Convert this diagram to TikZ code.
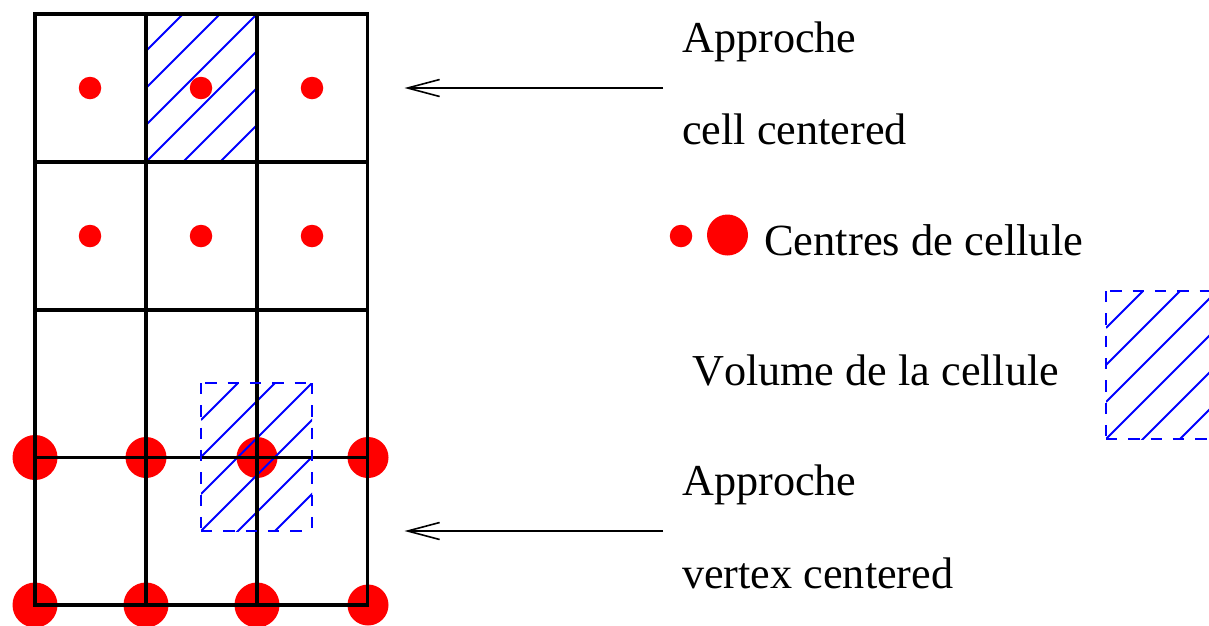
\documentclass[tikz,border=0pt]{standalone}
\usepackage{fontspec}
\setmainfont[Kerning=Off]{Liberation Serif}
\usetikzlibrary{arrows.meta}
\tikzset{
  gridline/.style={draw=black,line width=3.8pt,line cap=rect},
  hatchline/.style={draw=blue,line width=1.9pt},
  dashedge/.style={draw=blue,line width=2pt,dash pattern=on 11.3pt off 11pt},
  pointer/.style={draw=black,line width=1.6pt,-{Straight Barb[length=32pt,width=17pt,line width=1.6pt]}},
  small dot/.style={fill=red,draw=none,circle,inner sep=0pt,minimum size=22.5pt},
  label/.style={anchor=base west,inner sep=0pt,font=\fontsize{44.2}{48}\selectfont},
}
\newcommand{\hatchat}[2]{%
  \begin{scope}[shift={(#1,#2)}]
    \clip (0,0) rectangle (111,148);
    \foreach \k in {37,74,...,222}
      \draw[hatchline] (0,\k) -- (\k,0);
  \end{scope}}
\newcommand{\dashedboxat}[2]{%
  \begin{scope}[shift={(#1,#2)}]
    \draw[dashedge,dash phase=18pt] (0,0) -- (111,0);
    \draw[dashedge] (0,0) -- (0,148);
    \draw[dashedge] (0,148) -- (111,148);
    \draw[dashedge] (111,0) -- (111,148);
  \end{scope}}
\begin{document}
\begin{tikzpicture}[x=1pt,y=-1pt]
\useasboundingbox (0,0) rectangle (1209,625);
\clip (0,0) rectangle (1209,625);
\foreach \n/\x/\y in {a/90/88,b/201/88,c/312/88,d/90/236,e/201/236,f/312/236}
  \node[small dot] (dot\n) at (\x,\y) {};
\foreach \n/\x/\y/\r in {g/35/457.5/22.5,h/146/457.5/20.5,i/257/457.5/20.5,j/368/457.5/20.5,k/35/605/22.5,l/146/605/22.5,m/257/605/22.5,n/368/605/20.5}
  \fill[red] (\x,\y) circle[radius=\r];
\hatchat{146}{14}
\hatchat{201}{383}
\hatchat{1106}{291}
\foreach \x in {35,146,257,367.5}
  \draw[gridline] (\x,14) -- (\x,605);
\foreach \y in {14,162,310,457.5,605}
  \draw[gridline] (35,\y) -- (367.5,\y);
\dashedboxat{201}{383}
\dashedboxat{1106}{291}
\node[small dot] (legsmall) at (681,236) {};
\fill[red] (727.5,235) circle[radius=20.5];
\coordinate (arrowA) at (663,88);
\coordinate (targetA) at (404.5,88);
\coordinate (arrowB) at (663,531);
\coordinate (targetB) at (404.5,531);
\draw[pointer] (arrowA) -- (targetA);
\draw[pointer] (arrowB) -- (targetB);
\node[label] (t1) at (682,52) {Approche};
\node[label] (t2) at (682,144) {cell centered};
\node[label,font=\fontsize{44.55}{48}\selectfont] (t3) at (764,255) {Centres de cellule};
\node[label] (t4) at (692,385) {Volume de la cellule};
\node[label] (t5) at (682,495) {Approche};
\node[label] (t6) at (682,588) {vertex centered};
\end{tikzpicture}
\end{document}
